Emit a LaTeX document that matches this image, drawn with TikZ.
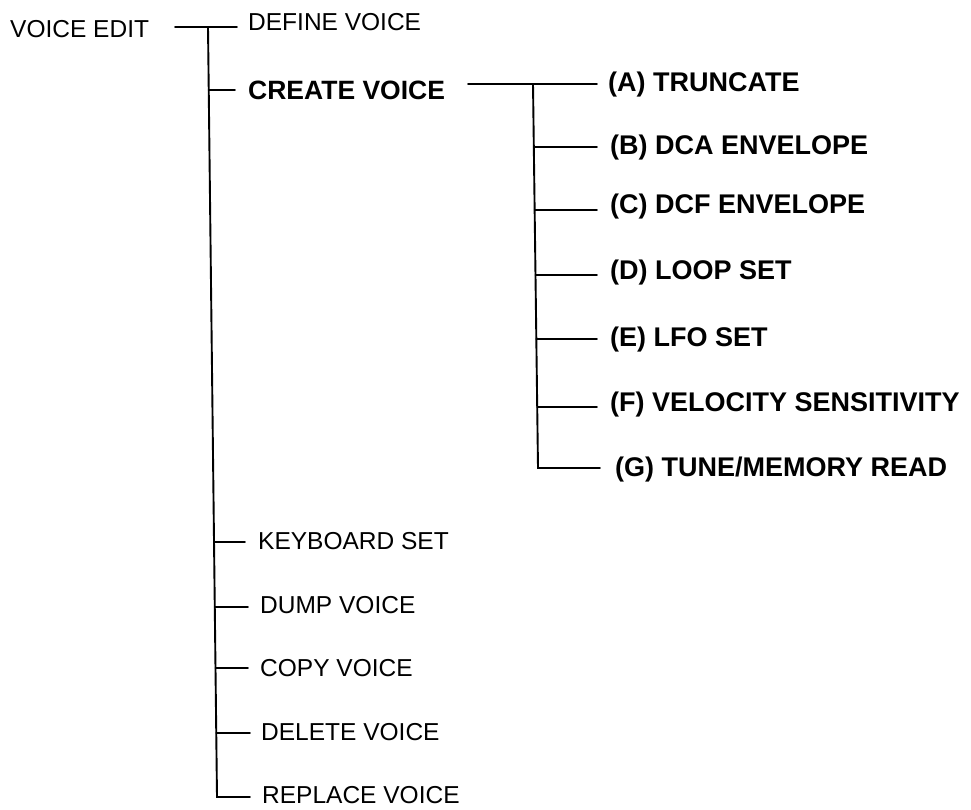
\documentclass[tikz,border=0pt]{standalone}
\usepackage{fontspec}
\setmainfont{Liberation Sans}
\begin{document}
\begin{tikzpicture}[x=1pt,y=-1pt,
  conn/.style={line width=1.9pt,line cap=round,line join=miter},
  lefttxt/.style={anchor=west,inner sep=0pt,text depth=0pt,text height=17.5pt,
     font=\fontsize{24.5}{28}\selectfont},
  righttxt/.style={anchor=west,inner sep=0pt,text depth=0pt,text height=19.5pt,
     font=\fontsize{27}{30}\selectfont\bfseries}]
\useasboundingbox (0,0) rectangle (971,809);
% text nodes
\node[lefttxt]  (ve)  at (10,29)  {VOICE EDIT};
\node[lefttxt]  (def) at (248,22) {DEFINE VOICE};
\node[righttxt,font=\fontsize{26.5}{30}\selectfont\bfseries] (cre) at (248,90) {CREATE VOICE};
\node[lefttxt]  (kbd) at (258,541) {KEYBOARD SET};
\node[lefttxt]  (dmp) at (260,605) {DUMP VOICE};
\node[lefttxt]  (cpy) at (260,668) {COPY VOICE};
\node[lefttxt]  (del) at (261,732) {DELETE VOICE};
\node[lefttxt]  (rep) at (262,795) {REPLACE VOICE};
\node[righttxt] (ta)  at (608,82)  {(A) TRUNCATE};
\node[righttxt] (tb)  at (610,145) {(B) DCA ENVELOPE};
\node[righttxt] (tc)  at (610,204) {(C) DCF ENVELOPE};
\node[righttxt] (td)  at (610,270) {(D) LOOP SET};
\node[righttxt] (te)  at (610,337) {(E) LFO SET};
\node[righttxt] (tf)  at (610,402) {(F) VELOCITY SENSITIVITY};
\node[righttxt] (tg)  at (615,467) {(G) TUNE/MEMORY READ};
% main spine coordinates
\coordinate (s0) at (208,27);
\coordinate (s1) at (208.7,90);
\coordinate (s2) at (214,542);
\coordinate (s3) at (214.8,607);
\coordinate (s4) at (215.5,668);
\coordinate (s5) at (216.3,733);
\coordinate (s6) at (217,797);
\coordinate (veS) at (175,27);
\coordinate (e0) at (237,27);
\coordinate (e1) at (235,90);
\coordinate (e2) at (245,542);
\coordinate (e3) at (248,607);
\coordinate (e4) at (248,668);
\coordinate (e5) at (250,733);
\coordinate (e6) at (250,797);
% right spine coordinates
\coordinate (creS) at (468,84);
\coordinate (r0) at (533,84);
\coordinate (r1) at (533.8,147);
\coordinate (r2) at (534.7,210);
\coordinate (r3) at (535.5,275);
\coordinate (r4) at (536.3,339);
\coordinate (r5) at (537.2,407);
\coordinate (r6) at (538,468);
\coordinate (f0) at (597,84);
\coordinate (f1) at (597,147);
\coordinate (f2) at (597,210);
\coordinate (f3) at (597,275);
\coordinate (f4) at (597,339);
\coordinate (f5) at (597,407);
\coordinate (f6) at (600,468);
% connectors
\draw[conn] (veS) -- (e0);
\draw[conn] (s0) -- (s6) -- (e6);
\foreach \i in {1,...,5} \draw[conn] (s\i) -- (e\i);
\draw[conn] (creS) -- (f0);
\draw[conn] (r0) -- (r6) -- (f6);
\foreach \i in {1,...,5} \draw[conn] (r\i) -- (f\i);
\end{tikzpicture}
\end{document}
